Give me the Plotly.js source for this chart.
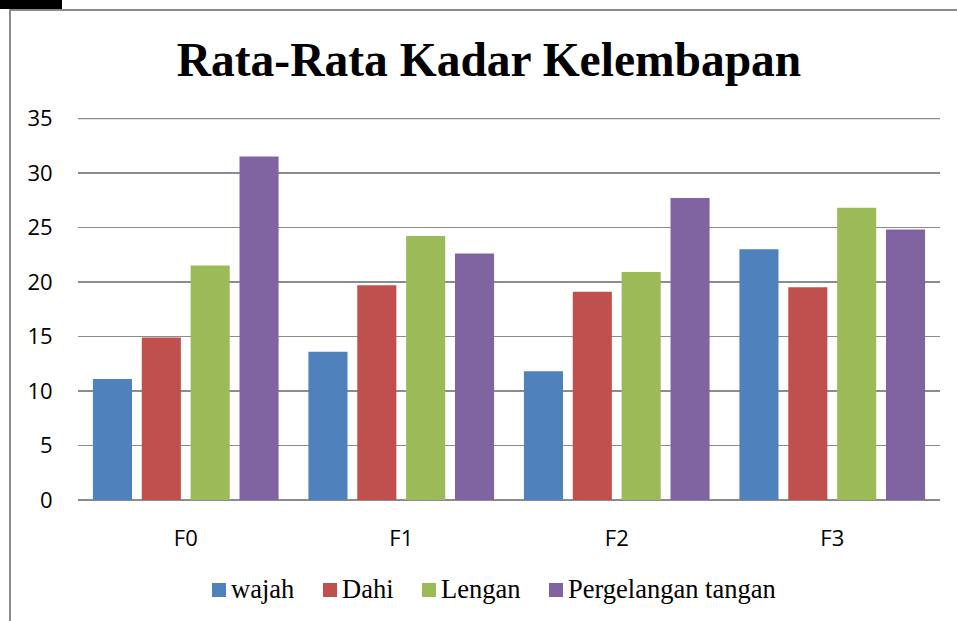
<!DOCTYPE html>
<html>
<head>
<meta charset="utf-8">
<script src="https://cdn.plot.ly/plotly-3.0.1.min.js"></script>
<style>
html,body{margin:0;padding:0;background:#fff;}
#wrap{position:relative;width:957px;height:621px;overflow:hidden;}
#chart{position:absolute;left:0;top:0;width:957px;height:621px;}
#frame{position:absolute;left:9px;top:9px;width:1000px;height:700px;border-left:2px solid #8a8a8a;border-top:2px solid #8a8a8a;pointer-events:none;}
#blk{position:absolute;left:0;top:0;width:62px;height:9px;background:#000;}
</style>
</head>
<body>
<div id="wrap">
<div id="chart"></div>
<div id="frame"></div>
<div id="blk"></div>
</div>
<script>
const categories = ["F0", "F1", "F2", "F3"];
const seriesNames = ["wajah", "Dahi", "Lengan", "Pergelangan tangan"];
const wajah = [11.1, 13.6, 11.8, 23.0];
const dahi = [14.9, 19.7, 19.1, 19.5];
const lengan = [21.5, 24.2, 20.9, 26.8];
const pergelangan = [31.5, 22.6, 27.7, 24.8];
const yTicks = [0, 5, 10, 15, 20, 25, 30, 35];
const colors = ["#4f81bd", "#c0504d", "#9bbb59", "#8064a2"];

const values = [wajah, dahi, lengan, pergelangan];
const traces = values.map((v, i) => ({
  type: "bar",
  name: seriesNames[i],
  x: categories,
  y: v,
  marker: {color: colors[i], line: {width: 0}},
  hoverinfo: "x+y+name"
}));

// plot area in pixels (layout only)
const W = 957, H = 621;
const M = {l: 78, r: 17, t: 118, b: 121};
const pw = W - M.l - M.r, ph = H - M.t - M.b;
const px = x => (x - M.l) / pw;
const py = y => (H - M.b - y) / ph;

// custom legend (layout positions)
const legendSquareLeft = [212, 323, 422, 549];
const legendY = 590;
const shapes = [{
  type: "line", xref: "paper", yref: "y", x0: 0, x1: 1,
  y0: yTicks[yTicks.length - 1], y1: yTicks[yTicks.length - 1],
  line: {color: "#8c8c8c", width: 1.6}, layer: "below"
}];
const annotations = [];
seriesNames.forEach((name, i) => {
  shapes.push({
    type: "rect", xref: "paper", yref: "paper",
    x0: px(legendSquareLeft[i]), x1: px(legendSquareLeft[i] + 14),
    y0: py(legendY + 7), y1: py(legendY - 7),
    fillcolor: colors[i], line: {width: 0}
  });
  annotations.push({
    xref: "paper", yref: "paper",
    x: px(legendSquareLeft[i] + 17), y: py(legendY - 1),
    xanchor: "left", yanchor: "middle", showarrow: false,
    text: name,
    font: {family: "Liberation Serif, Times New Roman, serif", size: 26.5, color: "#000"}
  });
});

const layout = {
  width: W, height: H,
  margin: M,
  paper_bgcolor: "#fff", plot_bgcolor: "#fff",
  barmode: "group", bargap: 0.093, bargroupgap: 0.2,
  title: {
    text: "<b>Rata-Rata Kadar Kelembapan</b>",
    font: {family: "Liberation Serif, Times New Roman, serif", size: 47.5, color: "#000"},
    x: 0.511, xanchor: "center", y: 0.905, yanchor: "middle"
  },
  xaxis: {
    type: "category",
    showgrid: false, zeroline: false, showline: false,
    ticks: "outside", ticklen: 19, tickcolor: "rgba(0,0,0,0)",
    tickfont: {family: "Open Sans, Noto Sans, sans-serif", size: 22, color: "#000"}
  },
  yaxis: {
    range: [0, 35.03], tickvals: yTicks, ticktext: yTicks.map(String),
    showgrid: true, gridcolor: "#8c8c8c", gridwidth: 1.6,
    zeroline: true, zerolinecolor: "#8c8c8c", zerolinewidth: 1.6,
    showline: false,
    ticks: "outside", ticklen: 20, tickcolor: "rgba(0,0,0,0)",
    tickfont: {family: "Open Sans, Noto Sans, sans-serif", size: 22, color: "#000"}
  },
  showlegend: false,
  shapes: shapes,
  annotations: annotations
};

Plotly.newPlot("chart", traces, layout, {displayModeBar: false, staticPlot: true});
</script>
</body>
</html>
